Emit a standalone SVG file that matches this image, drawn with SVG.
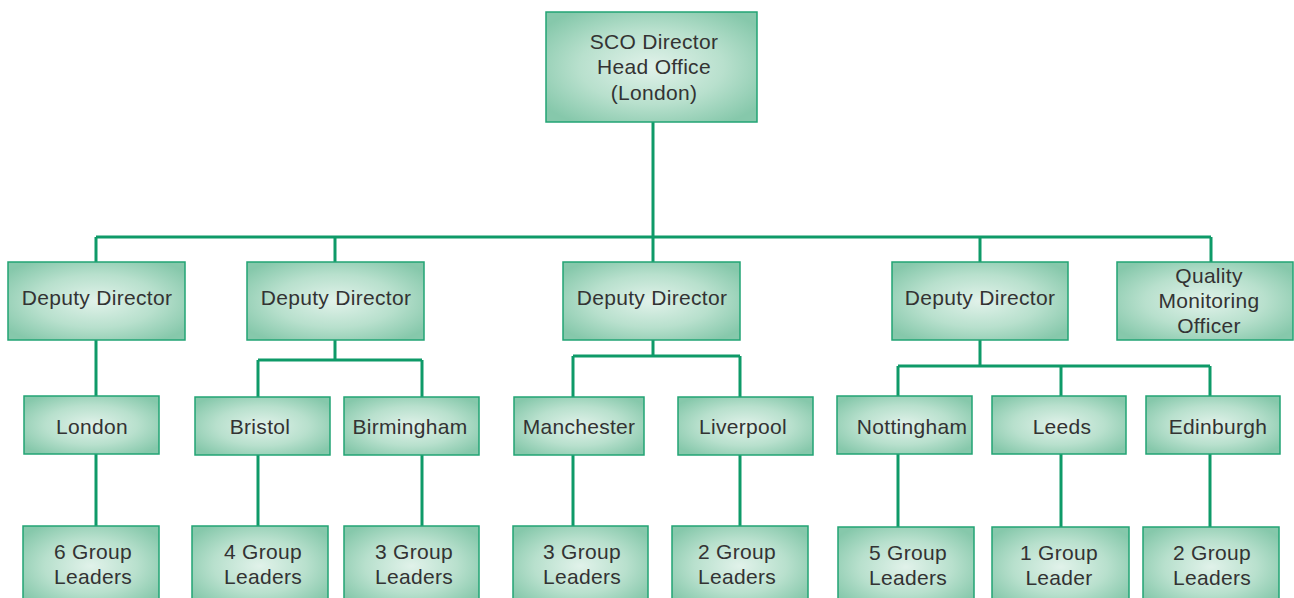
<svg xmlns="http://www.w3.org/2000/svg" width="1294" height="598" viewBox="0 0 1294 598">
<defs>
<radialGradient id="g" cx="50%" cy="50%" r="62%">
<stop offset="0" stop-color="#e1f2ea"/>
<stop offset="0.55" stop-color="#b8e0cd"/>
<stop offset="1" stop-color="#86c8ab"/>
</radialGradient>
</defs>
<style>
rect{fill:url(#g);stroke:#22a474;stroke-width:1.5}
text{font-family:"Liberation Sans",Arial,sans-serif;font-size:21px;letter-spacing:0.3px;fill:#333;text-anchor:middle;dominant-baseline:central}
#connectors path{fill:none;stroke:#0e9a68;stroke-width:3}
</style>
<rect width="1294" height="598" style="fill:#fff;stroke:none"/>
<g id="connectors">
<path d="M653 122V237M96 237H1211M96 237V262M335 237V262M653 237V262M980 237V262M1211 237V262"/>
<path d="M96 340V396M96 454V526"/>
<path d="M335 340V360M258 360H422M258 360V397M422 360V397M258 455V526M422 455V526"/>
<path d="M653 340V356M573 356H740M573 356V397M740 356V397M573 455V526M740 455V526"/>
<path d="M980 340V366M898 366H1210M898 366V396M1061 366V396M1210 366V396M898 454V527M1061 454V527M1210 454V527"/>
</g>
<g id="n-sco"><rect x="546" y="12" width="211" height="110"/><text x="654" y="41">SCO Director</text><text x="654" y="66">Head Office</text><text x="654" y="92">(London)</text></g>
<g id="n-dd1"><rect x="8" y="262" width="177" height="78"/><text x="97" y="297">Deputy Director</text></g>
<g id="n-dd2"><rect x="247" y="262" width="177" height="78"/><text x="336" y="297">Deputy Director</text></g>
<g id="n-dd3"><rect x="563" y="262" width="177" height="78"/><text x="652" y="297">Deputy Director</text></g>
<g id="n-dd4"><rect x="892" y="262" width="176" height="78"/><text x="980" y="297">Deputy Director</text></g>
<g id="n-qmo"><rect x="1117" y="262" width="176" height="78"/><text x="1209" y="275">Quality</text><text x="1209" y="300">Monitoring</text><text x="1209" y="325">Officer</text></g>
<g id="n-london"><rect x="24" y="396" width="135" height="58"/><text x="92" y="426">London</text></g>
<g id="n-bristol"><rect x="195" y="397" width="135" height="58"/><text x="260" y="426">Bristol</text></g>
<g id="n-birmingham"><rect x="344" y="397" width="135" height="58"/><text x="410" y="426">Birmingham</text></g>
<g id="n-manchester"><rect x="514" y="397" width="130" height="58"/><text x="579" y="426">Manchester</text></g>
<g id="n-liverpool"><rect x="678" y="397" width="135" height="58"/><text x="743" y="426">Liverpool</text></g>
<g id="n-nottingham"><rect x="837" y="396" width="135" height="58"/><text x="912" y="426">Nottingham</text></g>
<g id="n-leeds"><rect x="992" y="396" width="134" height="58"/><text x="1062" y="426">Leeds</text></g>
<g id="n-edinburgh"><rect x="1146" y="396" width="134" height="58"/><text x="1218" y="426">Edinburgh</text></g>
<g id="n-gl1"><rect x="23" y="526" width="136" height="80"/><text x="93" y="551">6 Group</text><text x="93" y="576">Leaders</text></g>
<g id="n-gl2"><rect x="192" y="526" width="136" height="80"/><text x="263" y="551">4 Group</text><text x="263" y="576">Leaders</text></g>
<g id="n-gl3"><rect x="344" y="526" width="135" height="80"/><text x="414" y="551">3 Group</text><text x="414" y="576">Leaders</text></g>
<g id="n-gl4"><rect x="513" y="526" width="135" height="80"/><text x="582" y="551">3 Group</text><text x="582" y="576">Leaders</text></g>
<g id="n-gl5"><rect x="672" y="526" width="136" height="80"/><text x="737" y="551">2 Group</text><text x="737" y="576">Leaders</text></g>
<g id="n-gl6"><rect x="838" y="527" width="136" height="80"/><text x="908" y="552">5 Group</text><text x="908" y="577">Leaders</text></g>
<g id="n-gl7"><rect x="992" y="527" width="137" height="80"/><text x="1059" y="552">1 Group</text><text x="1059" y="577">Leader</text></g>
<g id="n-gl8"><rect x="1143" y="527" width="136" height="80"/><text x="1212" y="552">2 Group</text><text x="1212" y="577">Leaders</text></g>
</svg>
